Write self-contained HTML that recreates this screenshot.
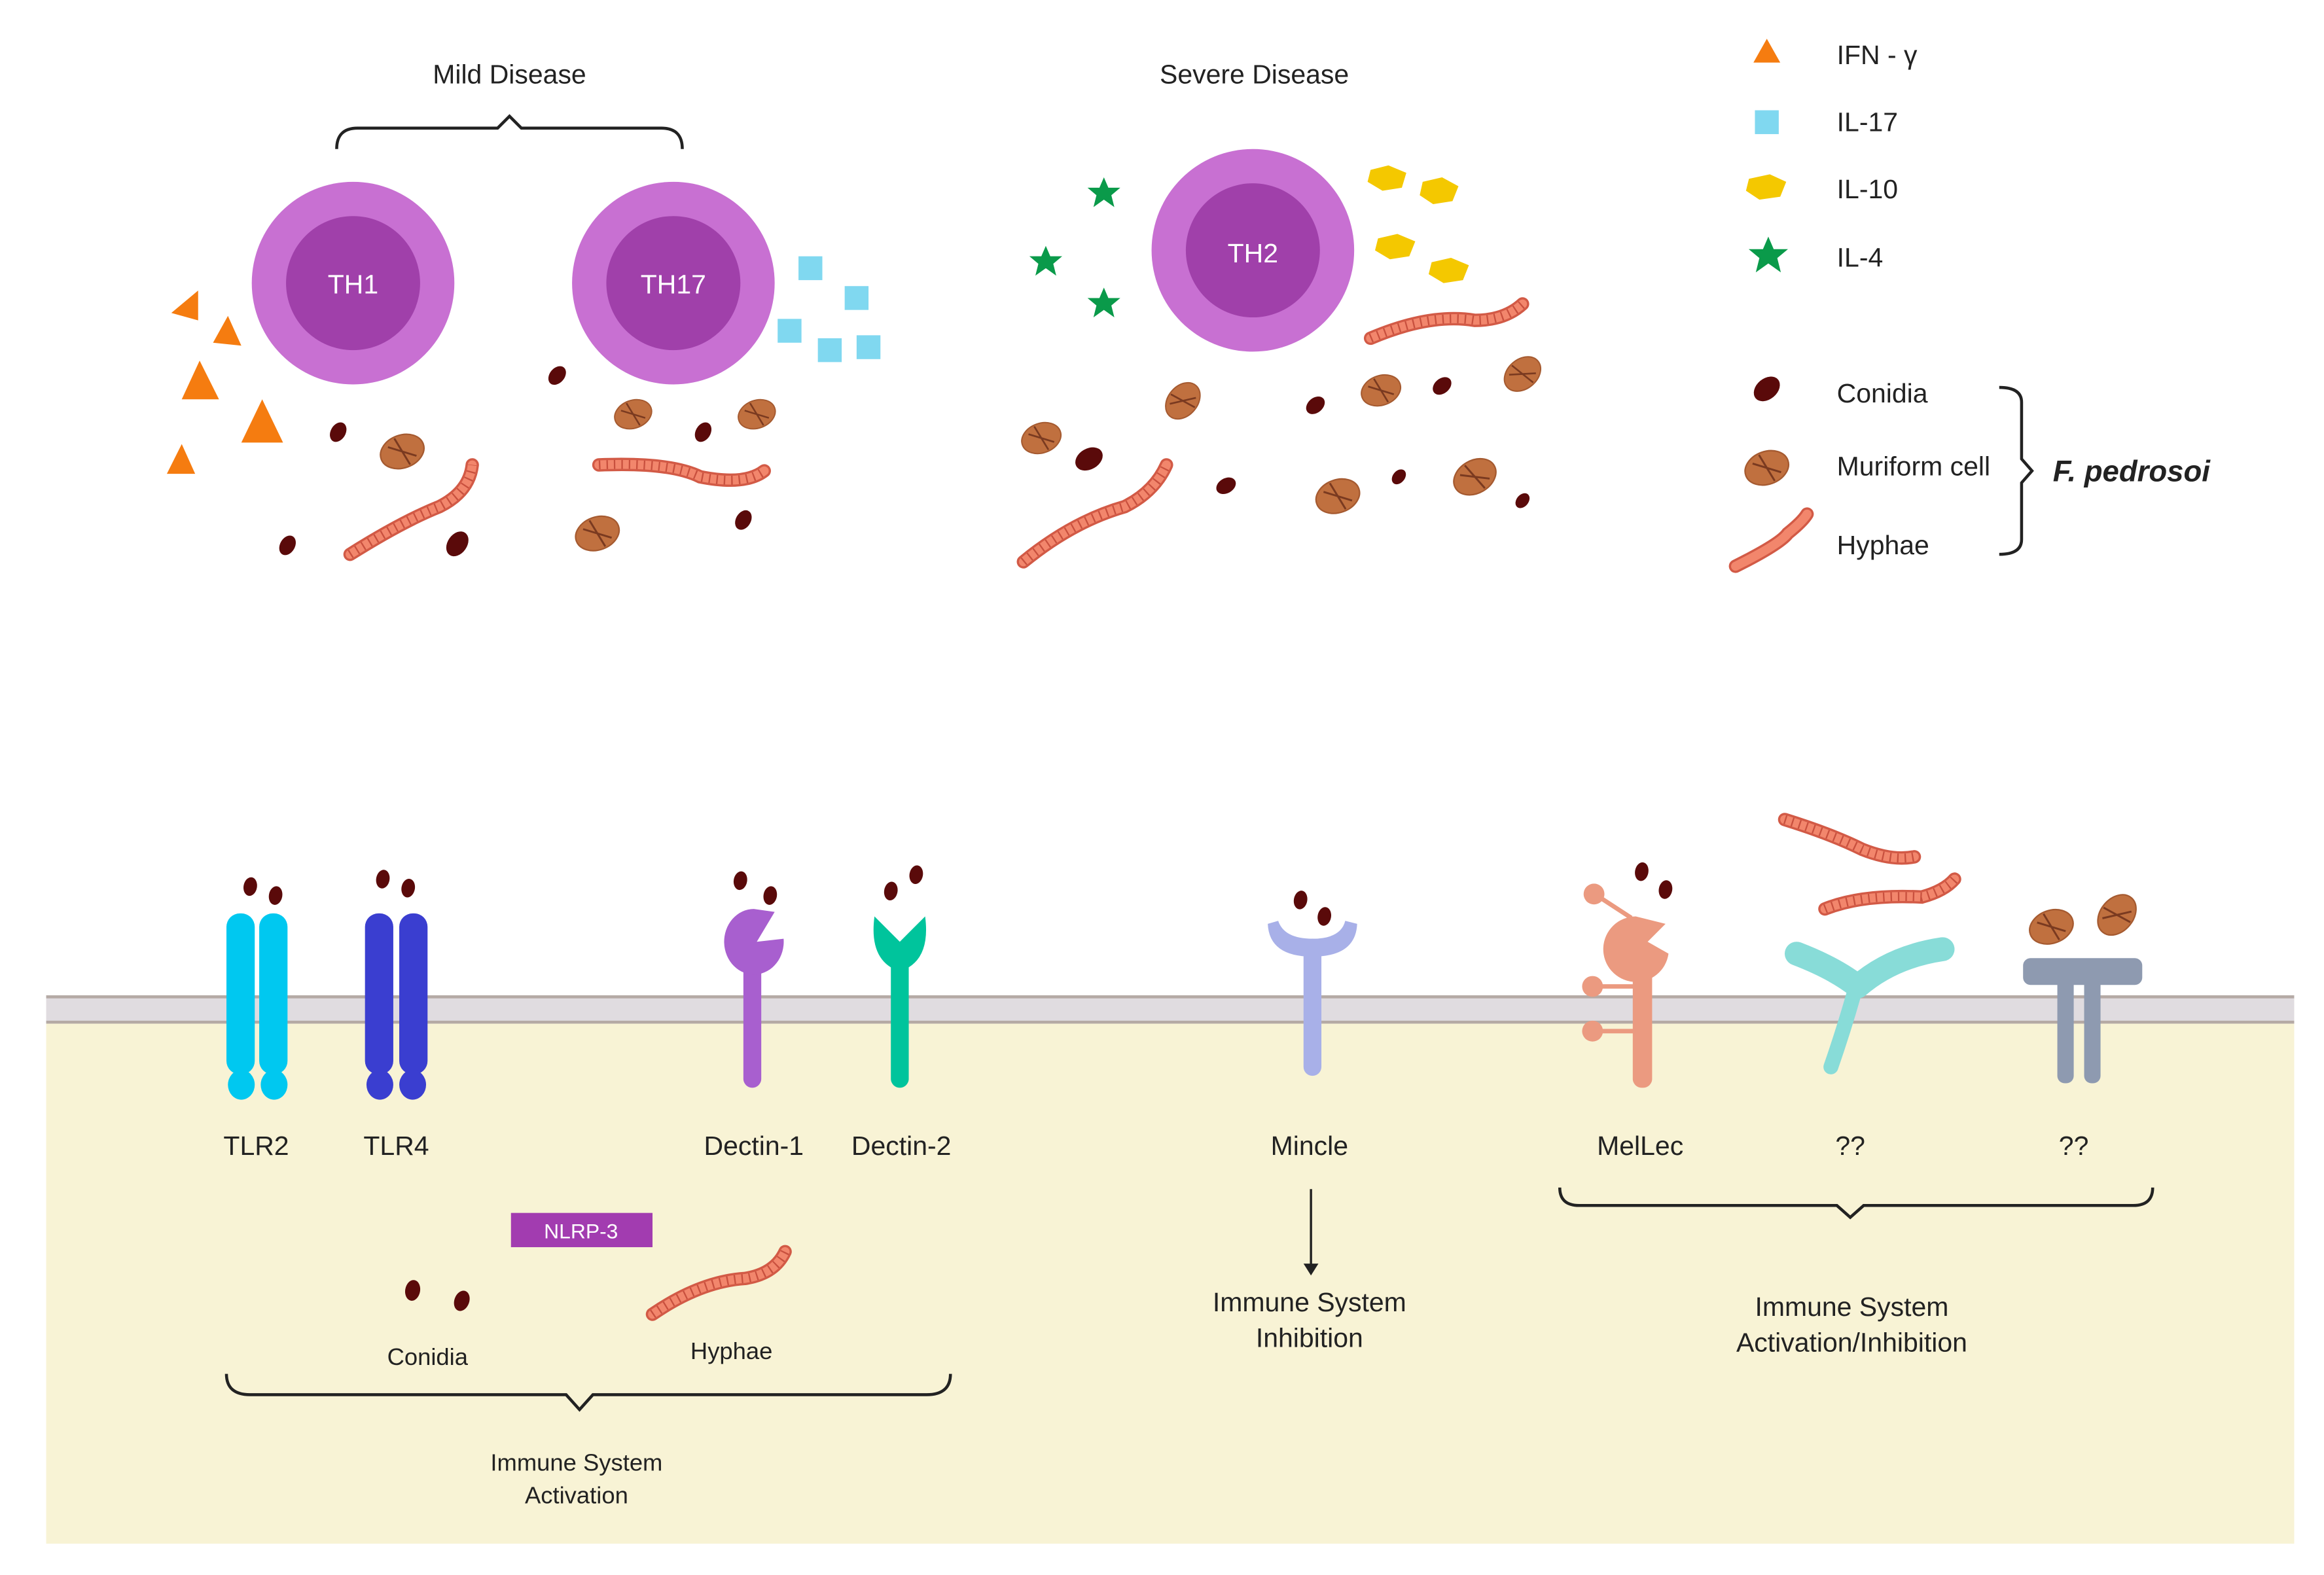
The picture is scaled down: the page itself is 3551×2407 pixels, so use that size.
<!DOCTYPE html>
<html><head><meta charset="utf-8"><style>
html,body{margin:0;padding:0;background:#fff}
svg{display:block}
text{font-family:"Liberation Sans",sans-serif;fill:#222}
</style></head><body>
<svg width="3551" height="2407" viewBox="0 0 1560 1057" preserveAspectRatio="none" xmlns="http://www.w3.org/2000/svg">
<defs>
<g id="con"><ellipse cx="0" cy="0" rx="5" ry="7" fill="#5a0a0a"/></g>
<g id="mur"><ellipse cx="0" cy="0" rx="15" ry="11" fill="#c0703f" stroke="#a55a30" stroke-width="1"/><path d="M-8 -6 L8 6 M-2 -10 L2 10" stroke="#7a3a20" stroke-width="1.3" fill="none"/></g>
<path id="st" d="M0 -11 L3 -4 L11 -4 L5 1 L7 9 L0 4 L-7 9 L-5 1 L-11 -4 L-3 -4Z"/>
</defs>
<rect width="1560" height="1057" fill="#fff"/>
<rect x="31" y="668" width="1509" height="368" fill="#f8f3d5"/>
<rect x="31" y="668" width="1509" height="19" fill="#e0dce0"/>
<line x1="31" y1="669" x2="1540" y2="669" stroke="#b5aaa5" stroke-width="2"/>
<line x1="31" y1="686" x2="1540" y2="686" stroke="#b5aaa5" stroke-width="2"/>

<text x="342" y="56" font-size="18" text-anchor="middle">Mild Disease</text>
<text x="842" y="56" font-size="18" text-anchor="middle">Severe Disease</text>
<path d="M226 100 Q226 86 240 86 L334 86 L342 78 L350 86 L444 86 Q458 86 458 100" fill="none" stroke="#222" stroke-width="2"/>

<circle cx="237" cy="190" r="68" fill="#c870d2"/><circle cx="237" cy="190" r="45" fill="#a040aa"/>
<text x="237" y="197" font-size="18" text-anchor="middle" style="fill:#fff">TH1</text>
<circle cx="452" cy="190" r="68" fill="#c870d2"/><circle cx="452" cy="190" r="45" fill="#a040aa"/>
<text x="452" y="197" font-size="18" text-anchor="middle" style="fill:#fff">TH17</text>
<circle cx="841" cy="168" r="68" fill="#c870d2"/><circle cx="841" cy="168" r="45" fill="#a040aa"/>
<text x="841" y="176" font-size="18" text-anchor="middle" style="fill:#fff">TH2</text>

<g fill="#f57c10">
<polygon points="115,210 133,195 133,215"/>
<polygon points="143,230 153,212 162,232"/>
<polygon points="122,268 134,242 147,268"/>
<polygon points="162,297 176,268 190,297"/>
<polygon points="112,318 122,298 131,318"/>
<polygon points="1177,42 1186,26 1195,42"/>
</g>
<g fill="#80d8f0">
<rect x="536" y="172" width="16" height="16"/><rect x="567" y="192" width="16" height="16"/>
<rect x="522" y="214" width="16" height="16"/><rect x="549" y="227" width="16" height="16"/>
<rect x="575" y="225" width="16" height="16"/><rect x="1178" y="74" width="16" height="16"/>
</g>
<g fill="#f4c800">
<polygon points="920,114 932,111 944,116 941,126 928,128 918,122"/>
<polygon points="955,122 968,119 979,125 975,135 962,137 953,131"/>
<polygon points="925,160 938,157 950,162 946,172 933,174 923,168"/>
<polygon points="961,176 974,173 986,178 982,188 969,190 959,184"/>
<polygon points="1174,120 1188,117 1199,122 1195,132 1181,134 1172,128"/>
</g>
<g fill="#0a9a4a">
<use href="#st" x="741" y="130"/><use href="#st" x="702" y="176"/><use href="#st" x="741" y="204"/>
<use href="#st" transform="translate(1187,172) scale(1.2)"/>
</g>

<use href="#con" transform="translate(227,290) rotate(30)"/>
<use href="#con" transform="translate(193,366) rotate(30)"/>
<use href="#con" transform="translate(307,365) rotate(35) scale(1.3)"/>
<use href="#con" transform="translate(374,252) rotate(40)"/>
<use href="#con" transform="translate(472,290) rotate(30)"/>
<use href="#con" transform="translate(499,349) rotate(30)"/>
<use href="#con" transform="translate(731,308) rotate(60) scale(1.4)"/>
<use href="#con" transform="translate(823,326) rotate(60)"/>
<use href="#con" transform="translate(883,272) rotate(50)"/>
<use href="#con" transform="translate(968,259) rotate(50)"/>
<use href="#con" transform="translate(939,320) rotate(40) scale(.8)"/>
<use href="#con" transform="translate(1022,336) rotate(40) scale(.8)"/>
<use href="#con" transform="translate(1186,261) rotate(50) scale(1.4)"/>
<use href="#mur" transform="translate(270,303) rotate(-20)"/>
<use href="#mur" transform="translate(425,278) rotate(-20) scale(.85)"/>
<use href="#mur" transform="translate(508,278) rotate(-20) scale(.85)"/>
<use href="#mur" transform="translate(401,358) rotate(-20)"/>
<use href="#mur" transform="translate(699,294) rotate(-20) scale(.9)"/>
<use href="#mur" transform="translate(794,269) rotate(-50) scale(.9)"/>
<use href="#mur" transform="translate(927,262) rotate(-20) scale(.9)"/>
<use href="#mur" transform="translate(1022,251) rotate(-40) scale(.9)"/>
<use href="#mur" transform="translate(898,333) rotate(-20)"/>
<use href="#mur" transform="translate(990,320) rotate(-30)"/>
<use href="#mur" transform="translate(1186,314) rotate(-20)"/>

<g fill="none" stroke-linecap="round">
<g stroke="#d25a46" stroke-width="9">
<path d="M235 372 Q270 350 295 340 Q315 330 317 312"/>
<path d="M402 312 Q450 310 470 320 Q500 326 513 316"/>
<path d="M920 227 Q960 210 990 215 Q1010 215 1022 204"/>
<path d="M687 377 Q720 350 755 340 Q775 330 783 312"/>
<path d="M1165 380 Q1195 365 1200 358 Q1210 350 1213 345"/>
<path d="M438 882 Q470 860 500 858 Q520 855 527 840"/>
<path d="M1198 550 Q1230 560 1250 570 Q1270 578 1285 575"/>
<path d="M1225 610 Q1250 600 1290 602 Q1305 598 1312 590"/>
</g>
<g stroke="#f2866c" stroke-width="6">
<path d="M235 372 Q270 350 295 340 Q315 330 317 312"/>
<path d="M402 312 Q450 310 470 320 Q500 326 513 316"/>
<path d="M920 227 Q960 210 990 215 Q1010 215 1022 204"/>
<path d="M687 377 Q720 350 755 340 Q775 330 783 312"/>
<path d="M1165 380 Q1195 365 1200 358 Q1210 350 1213 345"/>
<path d="M438 882 Q470 860 500 858 Q520 855 527 840"/>
<path d="M1198 550 Q1230 560 1250 570 Q1270 578 1285 575"/>
<path d="M1225 610 Q1250 600 1290 602 Q1305 598 1312 590"/>
</g>
<g stroke="#c8503e" stroke-width="6" stroke-dasharray="1 4" stroke-linecap="butt">
<path d="M235 372 Q270 350 295 340 Q315 330 317 312"/>
<path d="M402 312 Q450 310 470 320 Q500 326 513 316"/>
<path d="M920 227 Q960 210 990 215 Q1010 215 1022 204"/>
<path d="M687 377 Q720 350 755 340 Q775 330 783 312"/>
<path d="M438 882 Q470 860 500 858 Q520 855 527 840"/>
<path d="M1198 550 Q1230 560 1250 570 Q1270 578 1285 575"/>
<path d="M1225 610 Q1250 600 1290 602 Q1305 598 1312 590"/>
</g>
</g>

<g font-size="18">
<text x="1233" y="43">IFN - γ</text>
<text x="1233" y="88">IL-17</text>
<text x="1233" y="133">IL-10</text>
<text x="1233" y="179">IL-4</text>
<text x="1233" y="270">Conidia</text>
<text x="1233" y="319">Muriform cell</text>
<text x="1233" y="372">Hyphae</text>
</g>
<path d="M1342 260 Q1357 260 1357 270 L1357 308 L1364 316 L1357 324 L1357 362 Q1357 372 1342 372" fill="none" stroke="#222" stroke-width="2"/>
<text x="1378" y="323" font-size="20" font-weight="bold" font-style="italic">F. pedrosoi</text>

<g fill="#00c8f0">
<rect x="152" y="613" width="19" height="108" rx="9"/><rect x="174" y="613" width="19" height="108" rx="9"/>
<ellipse cx="162" cy="728" rx="9" ry="10"/><ellipse cx="184" cy="728" rx="9" ry="10"/>
</g>
<g fill="#3a3ed0">
<rect x="245" y="613" width="19" height="108" rx="9"/><rect x="268" y="613" width="19" height="108" rx="9"/>
<ellipse cx="255" cy="728" rx="9" ry="10"/><ellipse cx="277" cy="728" rx="9" ry="10"/>
</g>
<use href="#con" transform="translate(168,595) rotate(10) scale(.9)"/>
<use href="#con" transform="translate(185,601) rotate(10) scale(.9)"/>
<use href="#con" transform="translate(257,590) rotate(10) scale(.9)"/>
<use href="#con" transform="translate(274,596) rotate(10) scale(.9)"/>
<rect x="499" y="640" width="12" height="90" rx="6" fill="#a85fcf"/>
<path d="M506 610 A20 22 0 1 0 526 630 L508 632 L520 612 Z" fill="#a85fcf"/>
<use href="#con" transform="translate(497,591) rotate(10) scale(.9)"/>
<use href="#con" transform="translate(517,601) rotate(10) scale(.9)"/>
<rect x="598" y="640" width="12" height="90" rx="6" fill="#00c49c"/>
<path d="M587 615 Q583 645 604 652 Q625 645 621 615 L604 632 Z" fill="#00c49c"/>
<use href="#con" transform="translate(598,598) rotate(10) scale(.9)"/>
<use href="#con" transform="translate(615,587) rotate(10) scale(.9)"/>
<rect x="875" y="630" width="12" height="92" rx="6" fill="#a8b0e8"/>
<path d="M851 620 Q852 642 881 642 Q910 642 911 620 L903 618 Q900 630 881 630 Q862 630 858 618 Z" fill="#a8b0e8"/>
<use href="#con" transform="translate(873,604) rotate(10) scale(.9)"/>
<use href="#con" transform="translate(889,615) rotate(10) scale(.9)"/>
<rect x="1096" y="640" width="13" height="90" rx="6" fill="#eb9a80"/>
<path d="M1098 615 A22 22 0 1 0 1120 640 L1106 632 L1118 620 Z" fill="#eb9a80"/>
<line x1="1072" y1="601" x2="1095" y2="616" stroke="#eb9a80" stroke-width="3"/>
<circle cx="1070" cy="600" r="7" fill="#eb9a80"/>
<line x1="1070" y1="662" x2="1098" y2="662" stroke="#eb9a80" stroke-width="3"/>
<circle cx="1069" cy="662" r="7" fill="#eb9a80"/>
<line x1="1070" y1="692" x2="1098" y2="692" stroke="#eb9a80" stroke-width="3"/>
<circle cx="1069" cy="692" r="7" fill="#eb9a80"/>
<use href="#con" transform="translate(1102,585) rotate(10) scale(.9)"/>
<use href="#con" transform="translate(1118,597) rotate(10) scale(.9)"/>
<!-- ?? cyan Y -->
<g fill="none" stroke="#88dcd8" stroke-linecap="round">
<path d="M1229 716 Q1238 690 1245 665" stroke-width="10"/>
<path d="M1206 640 Q1232 650 1247 662" stroke-width="16"/>
<path d="M1247 662 Q1270 642 1304 637" stroke-width="16"/>
</g>
<rect x="1358" y="643" width="80" height="18" rx="5" fill="#8e9ab0"/>
<rect x="1381" y="655" width="11" height="72" rx="5" fill="#8e9ab0"/>
<rect x="1399" y="655" width="11" height="72" rx="5" fill="#8e9ab0"/>
<use href="#mur" transform="translate(1377,622) rotate(-20)"/>
<use href="#mur" transform="translate(1421,614) rotate(-50)"/>

<g font-size="18" text-anchor="middle">
<text x="172" y="775">TLR2</text>
<text x="266" y="775">TLR4</text>
<text x="506" y="775">Dectin-1</text>
<text x="605" y="775">Dectin-2</text>
<text x="879" y="775">Mincle</text>
<text x="1101" y="775">MelLec</text>
<text x="1242" y="775">??</text>
<text x="1392" y="775">??</text>
<text x="879" y="880">Immune System</text>
<text x="879" y="904">Inhibition</text>
<text x="1243" y="883">Immune System</text>
<text x="1243" y="907">Activation/Inhibition</text>
<text x="387" y="987" font-size="16">Immune System</text>
<text x="387" y="1009" font-size="16">Activation</text>
<text x="287" y="916" font-size="16">Conidia</text>
<text x="491" y="912" font-size="16">Hyphae</text>
</g>
<rect x="343" y="814" width="95" height="23" fill="#a23cb0"/>
<text x="390" y="831" font-size="14" text-anchor="middle" style="fill:#fff">NLRP-3</text>
<use href="#con" transform="translate(277,866) rotate(10)"/>
<use href="#con" transform="translate(310,873) rotate(20)"/>
<line x1="880" y1="798" x2="880" y2="850" stroke="#222" stroke-width="1.5"/>
<polygon points="875,848 885,848 880,856" fill="#222"/>
<path d="M1047 797 Q1047 809 1060 809 L1233 809 L1242 817 L1251 809 L1432 809 Q1445 809 1445 797" fill="none" stroke="#222" stroke-width="2"/>
<path d="M152 922 Q152 936 168 936 L380 936 L389 946 L398 936 L622 936 Q638 936 638 922" fill="none" stroke="#222" stroke-width="2"/>
</svg>
</body></html>
